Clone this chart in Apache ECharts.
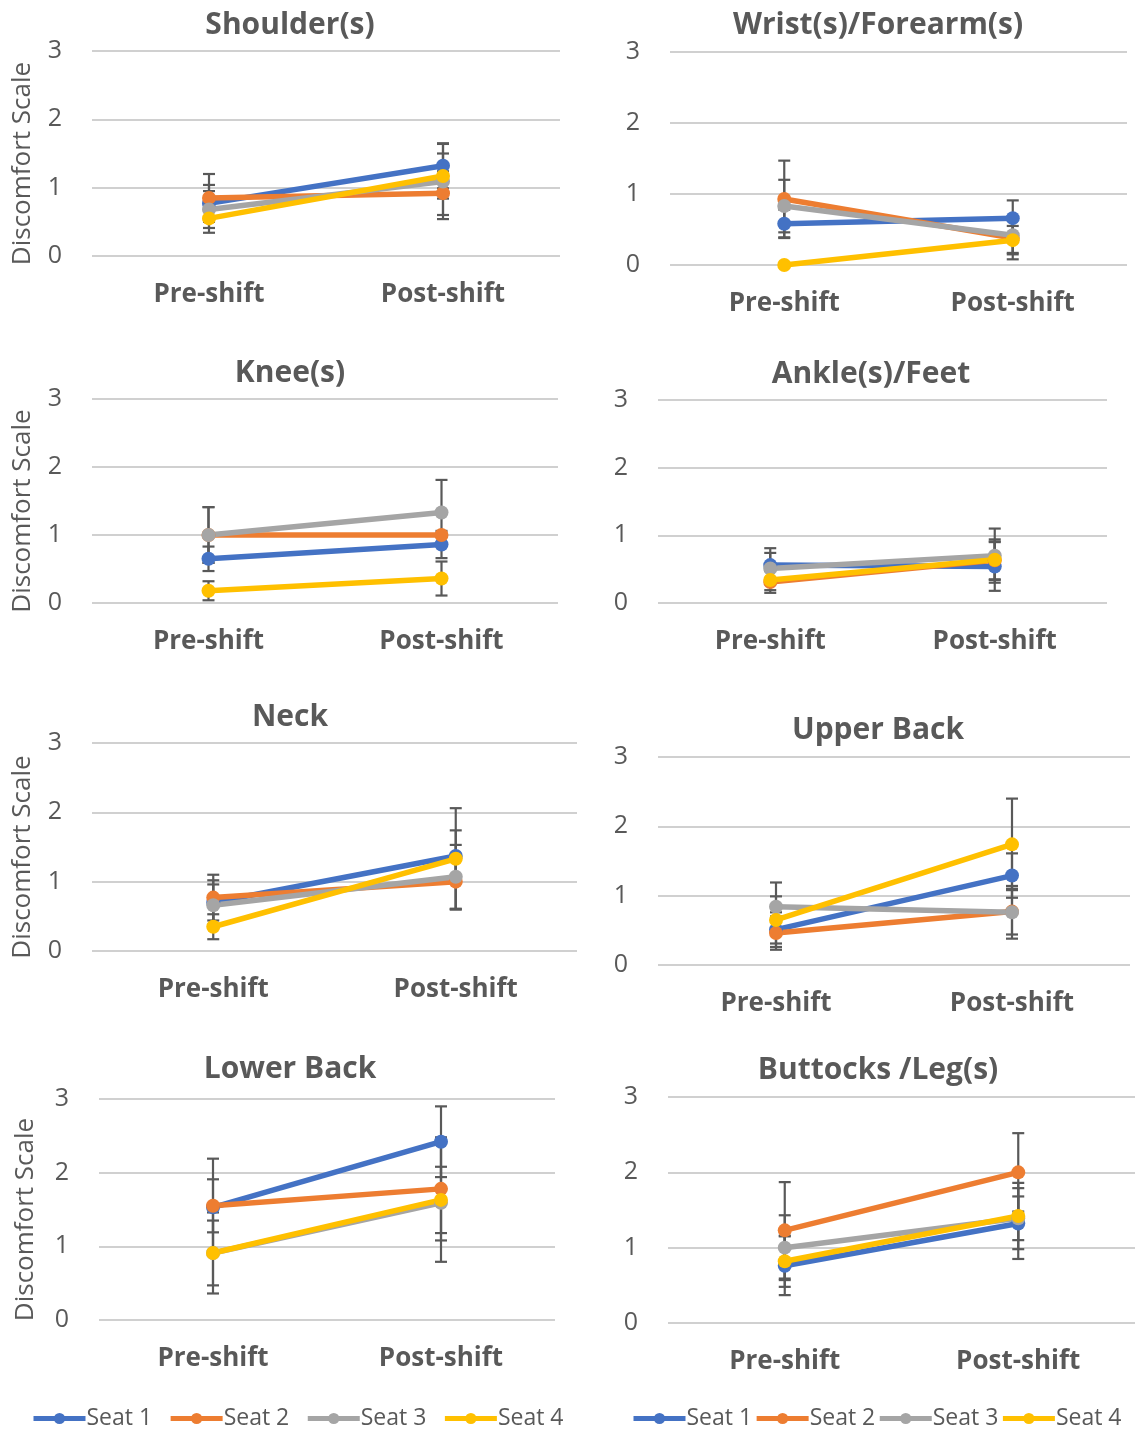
<!DOCTYPE html>
<html>
<head>
<meta charset="utf-8">
<script src="https://cdn.jsdelivr.net/npm/echarts@6/dist/echarts.min.js"></script>
<style>
  html, body { margin: 0; padding: 0; background: #fff; }
  #chart { width: 1140px; height: 1430px; }
</style>
</head>
<body>
<div id="chart"></div>
<script>
// panel titles, categories and seats
const panelTitles = ['Shoulder(s)', 'Wrist(s)/Forearm(s)', 'Knee(s)', 'Ankle(s)/Feet',
  'Neck', 'Upper Back', 'Lower Back', 'Buttocks /Leg(s)']
const categories = ['Pre-shift', 'Post-shift']
const seats = ['Seat 1', 'Seat 2', 'Seat 3', 'Seat 4']
const yTicks = [0, 1, 2, 3]

// mean discomfort per panel: [pre, post]
const seat1 = [[0.77, 1.32], [0.58, 0.66], [0.65, 0.86], [0.56, 0.54], [0.70, 1.37], [0.51, 1.29], [1.53, 2.42], [0.76, 1.32]]
const seat2 = [[0.85, 0.92], [0.93, 0.38], [1.00, 1.00], [0.31, 0.63], [0.77, 1.00], [0.46, 0.77], [1.55, 1.78], [1.23, 2.00]]
const seat3 = [[0.68, 1.09], [0.83, 0.42], [1.00, 1.33], [0.51, 0.70], [0.66, 1.07], [0.84, 0.76], [0.91, 1.59], [1.00, 1.39]]
const seat4 = [[0.55, 1.17], [0.00, 0.35], [0.18, 0.36], [0.34, 0.64], [0.35, 1.33], [0.65, 1.74], [0.91, 1.63], [0.82, 1.42]]

// error bar half widths (+/-) per panel: [pre, post]
const seat1Err = [[0.27, 0.33], [0.20, 0.25], [0.18, 0.20], [0.25, 0.36], [0.32, 0.37], [0.25, 0.32], [0.66, 0.48], [0.39, 0.47]]
const seat2Err = [[0.35, 0.32], [0.54, 0.30], [0.41, 0.00], [0.16, 0.28], [0.33, 0.40], [0.24, 0.33], [0.36, 0.70], [0.64, 0.52]]
const seat3Err = [[0.27, 0.55], [0.37, 0.25], [0.41, 0.48], [0.23, 0.40], [0.30, 0.46], [0.35, 0.38], [0.55, 0.80], [0.43, 0.29]]
const seat4Err = [[0.21, 0.33], [0.00, 0.20], [0.14, 0.25], [0.15, 0.30], [0.18, 0.73], [0.34, 0.66], [0.44, 0.45], [0.34, 0.44]]

const seatValues = [seat1, seat2, seat3, seat4]
const seatErrors = [seat1Err, seat2Err, seat3Err, seat4Err]
const colors = ['#4472C4', '#ED7D31', '#A5A5A5', '#FFC000']

// plot boxes [left, top, right, bottom] in px
const boxes = [
  [92, 51, 560, 256], [670, 52, 1127, 265],
  [92, 399, 558, 603], [658, 400, 1107, 603],
  [92, 743, 577, 951], [658, 757, 1130, 965],
  [99, 1099, 555, 1320], [668, 1097, 1135, 1323]
]
const titlePos = [[290, 25], [878, 25], [290, 373], [871, 374], [290, 717], [878, 730], [290, 1069], [878, 1070]]

const textColor = '#595959'
const font = '"Open Sans", sans-serif'

function renderErr (params, api) {
  const x = api.value(0)
  const top = api.coord([x, api.value(2)])
  const bot = api.coord([x, api.value(1)])
  const w = 6
  const style = { stroke: '#595959', lineWidth: 2.2 }
  return {
    type: 'group',
    children: [
      { type: 'line', shape: { x1: top[0], y1: top[1], x2: bot[0], y2: bot[1] }, style },
      { type: 'line', shape: { x1: top[0] - w, y1: top[1], x2: top[0] + w, y2: top[1] }, style },
      { type: 'line', shape: { x1: bot[0] - w, y1: bot[1], x2: bot[0] + w, y2: bot[1] }, style }
    ]
  }
}

const grid = []
const xAxis = []
const yAxis = []
const title = []
const series = []

boxes.forEach((b, p) => {
  const leftCol = p % 2 === 0
  grid.push({ left: b[0], top: b[1], width: b[2] - b[0], height: b[3] - b[1], containLabel: false })
  title.push({
    text: panelTitles[p],
    left: titlePos[p][0],
    top: titlePos[p][1],
    textAlign: 'center',
    textVerticalAlign: 'middle',
    padding: 0,
    textStyle: { color: textColor, fontSize: 30, fontWeight: 'bold', fontFamily: font }
  })
  xAxis.push({
    type: 'category',
    gridIndex: p,
    data: categories,
    boundaryGap: true,
    axisLine: { show: false },
    axisTick: { show: false },
    axisLabel: { color: textColor, fontSize: 26, fontWeight: 'bold', fontFamily: font, margin: 26 }
  })
  yAxis.push({
    type: 'value',
    gridIndex: p,
    min: yTicks[0],
    max: yTicks[yTicks.length - 1],
    interval: 1,
    name: leftCol ? 'Discomfort Scale' : '',
    nameLocation: 'middle',
    nameGap: p === 6 ? 60 : 56,
    // shift the rotated name a little down, as in the source
    nameTextStyle: { color: textColor, fontSize: 26, fontFamily: font, padding: [0, 20, 0, 0] },
    axisLine: { show: false },
    axisTick: { show: false },
    axisLabel: { color: textColor, fontSize: 25, fontFamily: font, margin: 30 },
    splitLine: { lineStyle: { color: '#d0d0d0', width: 2 } }
  })
  seats.forEach((seat, s) => {
    const vals = seatValues[s][p]
    const errs = seatErrors[s][p]
    series.push({
      type: 'custom',
      xAxisIndex: p,
      yAxisIndex: p,
      z: 1,
      renderItem: renderErr,
      encode: { x: 0, y: [1, 2] },
      data: vals.map((v, i) => errs[i] > 0 ? [i, v - errs[i], v + errs[i]] : null).filter(d => d),
      silent: true
    })
  })
  seats.forEach((seat, s) => {
    series.push({
      name: seat,
      type: 'line',
      xAxisIndex: p,
      yAxisIndex: p,
      z: 2,
      data: seatValues[s][p],
      symbol: 'circle',
      symbolSize: 14,
      color: colors[s],
      lineStyle: { width: 5.5, color: colors[s] },
      itemStyle: { color: colors[s] }
    })
  })
})

const legendBase = {
  data: seats,
  orient: 'horizontal',
  itemWidth: 52,
  itemHeight: 14,
  lineStyle: { width: 5 },
  textStyle: { color: textColor, fontSize: 23, fontFamily: font, padding: [0, 0, 0, -4] }
}

const option = {
  animation: false,
  backgroundColor: '#fff',
  title,
  grid,
  xAxis,
  yAxis,
  legend: [
    Object.assign({}, legendBase, { left: 26, top: 1402, itemGap: 16 }),
    Object.assign({}, legendBase, { left: 626, top: 1402, itemGap: 2 })
  ],
  series
}

const myChart = echarts.init(document.getElementById('chart'))
myChart.setOption(option)
</script>
</body>
</html>
